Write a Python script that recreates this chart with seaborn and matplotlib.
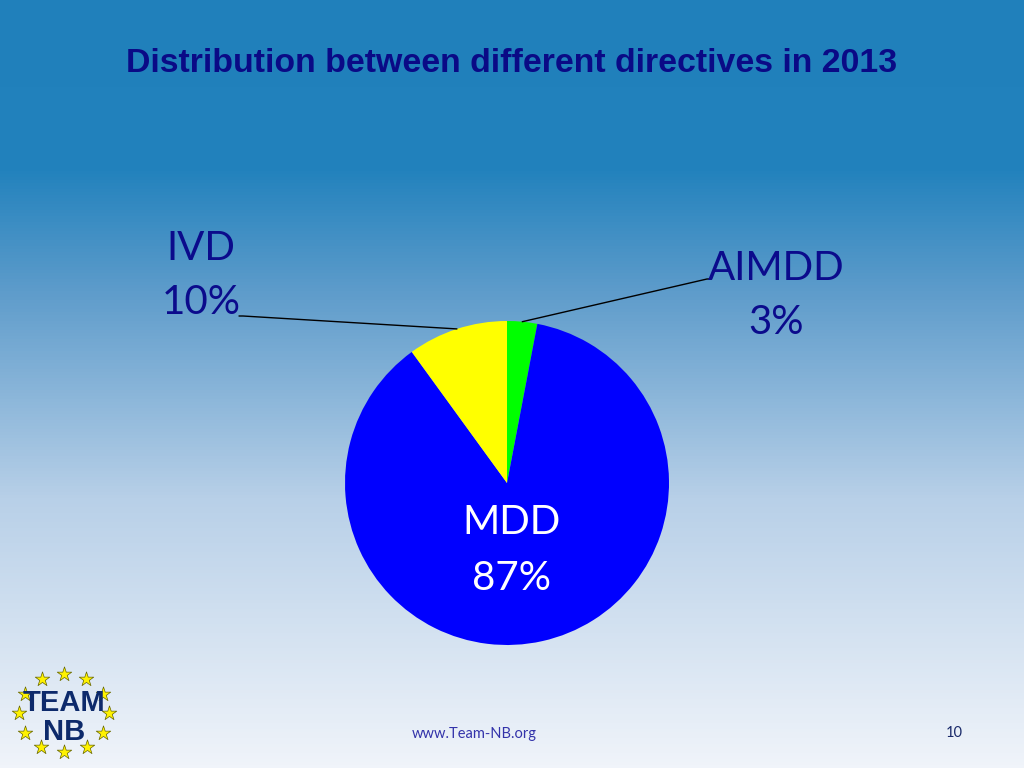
import numpy as np
import matplotlib
matplotlib.use("Agg")
import matplotlib.pyplot as plt
import seaborn as sns
from matplotlib.colors import LinearSegmentedColormap

sns.set_style("white")

# data
directives = ["AIMDD", "MDD", "IVD"]
shares = [3, 87, 10]
colors = ["#00FF00", "#0000FF", "#FFFF00"]
label_colors = ["#0B0B8C", "white", "#0B0B8C"]
title = "Distribution between different directives in 2013"

fig = plt.figure(figsize=(10.24, 7.68), dpi=100)

# background gradient (pixel coordinates, y measured from bottom)
bg = fig.add_axes([0, 0, 1, 1])
bg.set_axis_off()
grad_cmap = LinearSegmentedColormap.from_list(
    "bg", [(0.0, "#F0F4FA"), (0.35, "#B8D0E8"), (0.62, "#5E9CCB"),
           (0.78, "#2282BD"), (1.0, "#2080BB")])
grad = np.linspace(0, 1, 768).reshape(-1, 1)
bg.imshow(grad, aspect="auto", cmap=grad_cmap, origin="lower",
          extent=[0, 1024, 0, 768])
bg.set_xlim(0, 1024)
bg.set_ylim(0, 768)

ax = fig.add_axes([0, 0, 1, 1])
ax.patch.set_alpha(0)

cx, cy, r = 507, 768 - 483, 162
wedges, _ = ax.pie(shares, colors=colors, startangle=90, counterclock=False,
                   center=(cx, cy), radius=r, frame=True,
                   wedgeprops=dict(linewidth=0))
ax.set_xlim(0, 1024)
ax.set_ylim(0, 768)
ax.set_aspect("equal")
ax.set_axis_off()

# label positions (text boxes) and leader-line anchors
label_pos = {"AIMDD": (776, 768 - 295), "IVD": (201, 768 - 275), "MDD": (512, 768 - 550)}
line_end = {"AIMDD": (707, 768 - 279), "IVD": (243, 768 - 316)}

for w, name, val, lc in zip(wedges, directives, shares, label_colors):
    tx, ty = label_pos[name]
    kw = dict(family="Lato", fontsize=29, color=lc, ha="center", va="center")
    ax.text(tx, ty + 27, name, **kw)
    ax.text(tx, ty - 28, f"{val}%", **kw)
    if name in line_end:
        ang = np.deg2rad((w.theta1 + w.theta2) / 2)
        px, py = cx + r * np.cos(ang), cy + r * np.sin(ang)
        ex, ey = line_end[name]
        ax.plot([px, ex, ex + (4 if ex > px else -4)], [py, ey, ey],
                color="black", lw=1)

# title
fig.text(512 / 1024, 1 - 63 / 768, title, ha="center", va="center",
         fontsize=24.4, fontweight="bold", color="#0A0A86",
         family="Liberation Sans")

# footer
fig.text(474 / 1024, 1 - 734 / 768, "www.Team-NB.org", ha="center", va="center",
         fontsize=10.5, color="#3333AA", family="Lato")
fig.text(954 / 1024, 1 - 733 / 768, "10", ha="center", va="center",
         fontsize=10.5, color="#1A2A6A", family="Lato")

# logo: ring of stars with TEAM NB text
lcx, lcy, lrx, lry = 64, 768 - 713, 45, 39
star_angles = np.deg2rad(np.arange(90, 450, 30))
ax.scatter(lcx + lrx * np.cos(star_angles), lcy + lry * np.sin(star_angles),
           marker="*", s=120, color="#FFF200", edgecolor="#666600",
           linewidth=0.5, zorder=5)
ax.text(lcx, 768 - 703, "TEAM", ha="center", va="center", fontsize=21,
        fontweight="black", color="#0D2A6B", family="Liberation Sans", zorder=6)
ax.text(lcx, 768 - 732, "NB", ha="center", va="center", fontsize=21,
        fontweight="black", color="#0D2A6B", family="Liberation Sans", zorder=6)

fig.savefig("out.png", dpi=100)
